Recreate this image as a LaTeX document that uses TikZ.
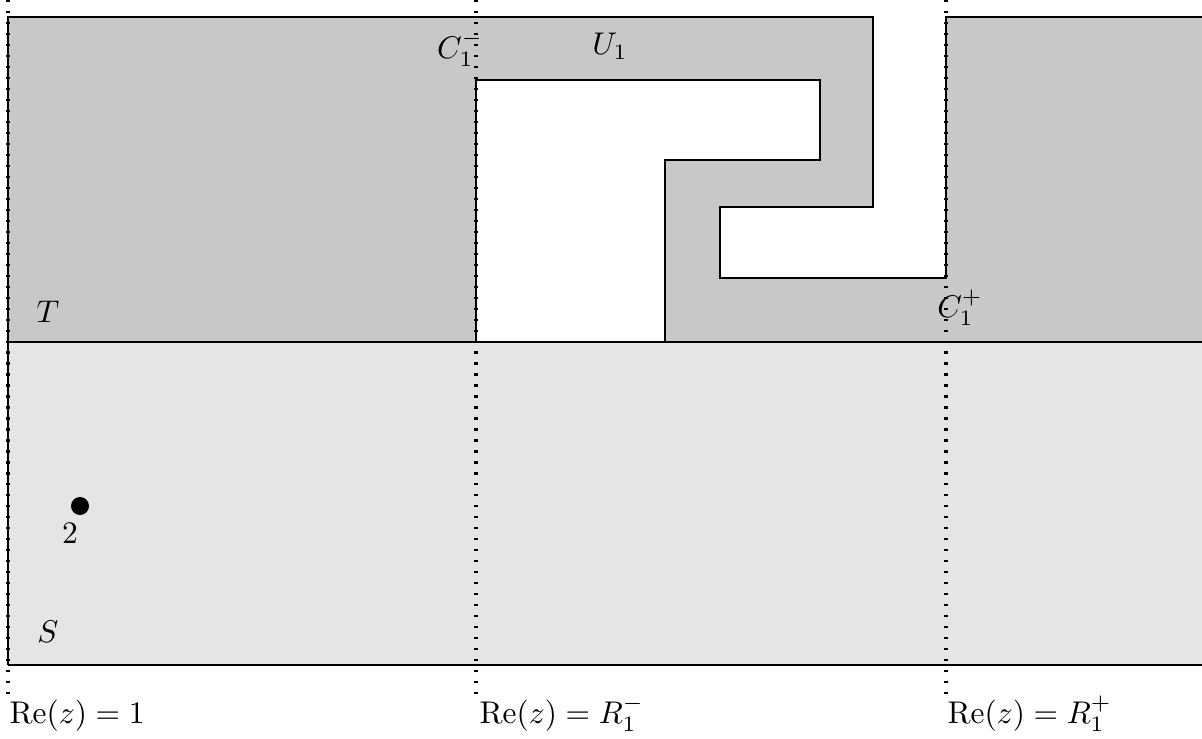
\documentclass[tikz,border=0pt]{standalone}
\begin{document}
\begin{tikzpicture}[x=0.0112cm,y=-0.0112cm,
  outline/.style={line width=0.7pt},
  guide/.style={line width=1pt, dash pattern=on 0.7pt off 2.8pt},
  lbl/.style={inner sep=0pt},
  darkregion/.style={fill={rgb,255:red,200;green,200;blue,200}},
  lightregion/.style={fill={rgb,255:red,229;green,229;blue,229}}]
\useasboundingbox (0,0) rectangle (1202,738);
% regions
\fill[lightregion] (8,342) rectangle (1202,665);
\fill[darkregion] (8,17) -- (873,17) -- (873,207) -- (720,207) -- (720,278) -- (946,278) -- (946,17) -- (1202,17) -- (1202,342) -- (665,342) -- (665,160) -- (820,160) -- (820,80) -- (476,80) -- (476,342) -- (8,342) -- cycle;
% outlines
\draw[outline] (8,665) -- (8,17) -- (873,17) -- (873,207) -- (720,207) -- (720,278) -- (946,278) -- (946,17) -- (1202,17);
\draw[outline] (476,342) -- (476,80) -- (820,80) -- (820,160) -- (665,160) -- (665,342);
\draw[outline] (8,342) -- (1202,342);
\draw[outline] (8,665) -- (1202,665);
% guides
\coordinate (g1t) at (8,0);   \coordinate (g1b) at (8,695);
\coordinate (g2t) at (476,0); \coordinate (g2b) at (476,695);
\coordinate (g3t) at (946,0); \coordinate (g3b) at (946,695);
\draw[guide] (g1t) -- (g1b);
\draw[guide] (g2t) -- (g2b);
\draw[guide] (g3t) -- (g3b);
% labels
\node[lbl] (T) at (48,312) {$T$};
\node[lbl] (S) at (48,632) {$S$};
\node[lbl] (U) at (610,46) {$U_1$};
\node[lbl] (Cm) at (460,49) {$C_1^-$};
\node[lbl] (Cp) at (960,308) {$C_1^+$};
\fill (80,506) circle (9);
\node[lbl] (two) at (70,533) {$2$};
\node[lbl, anchor=base west] (re1) at (9,723) {$\mathrm{Re}(z)=1$};
\node[lbl, anchor=base west] (re2) at (479,723) {$\mathrm{Re}(z)=R_1^-$};
\node[lbl, anchor=base west] (re3) at (947,723) {$\mathrm{Re}(z)=R_1^+$};
\end{tikzpicture}
\end{document}
